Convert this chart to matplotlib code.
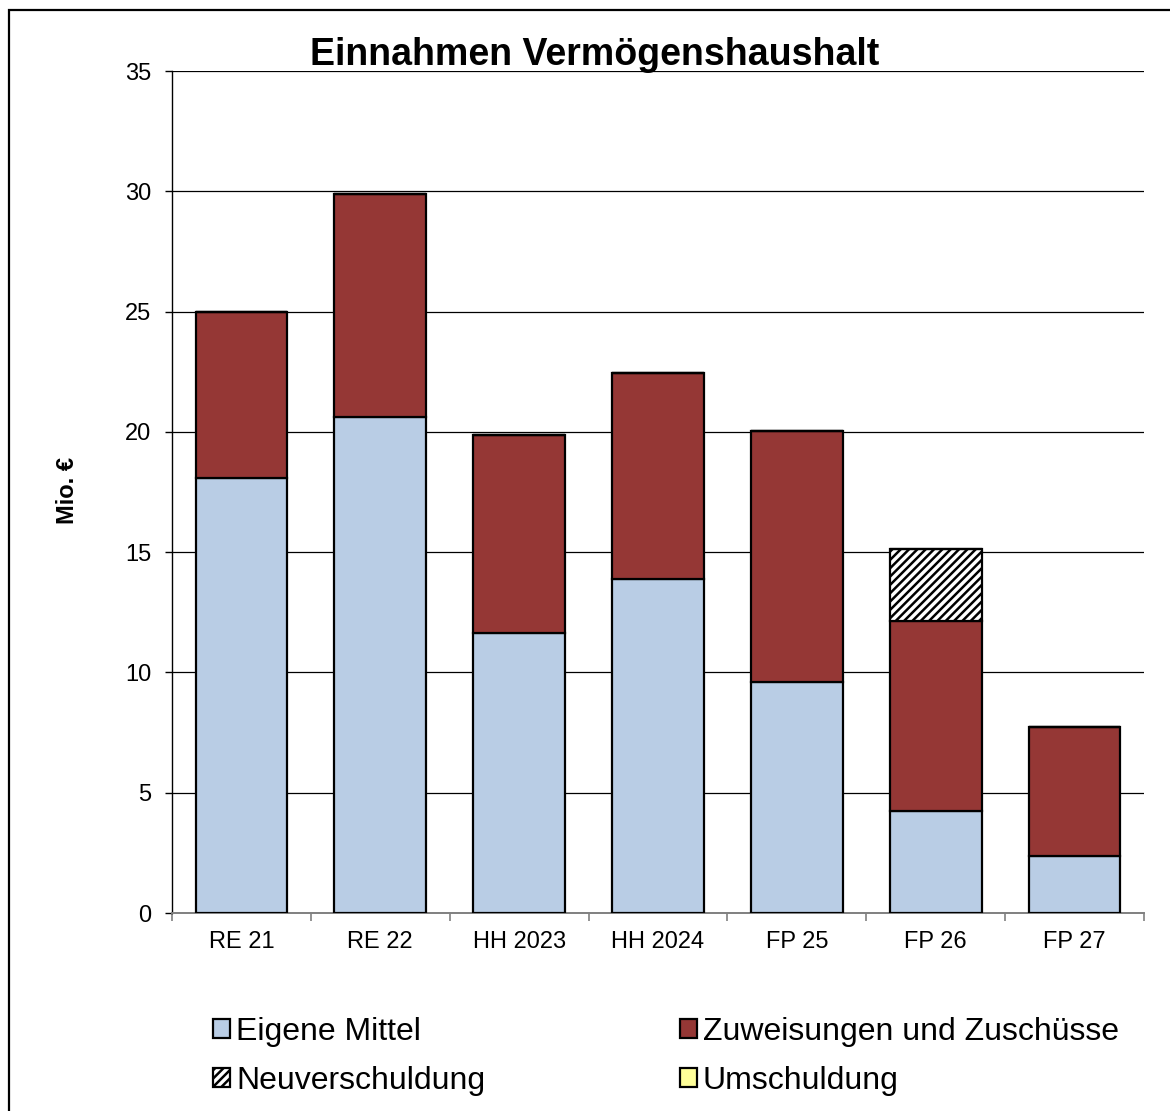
import numpy as np
import matplotlib
matplotlib.use('Agg')
import matplotlib.pyplot as plt
from matplotlib.patches import Rectangle

plt.rcParams['font.family'] = ['Liberation Sans', 'DejaVu Sans']
plt.rcParams['hatch.linewidth'] = 1.8

# data (Mio. EUR)
categories = ['RE 21', 'RE 22', 'HH 2023', 'HH 2024', 'FP 25', 'FP 26', 'FP 27']
eigene_mittel = [18.1, 20.6, 11.65, 13.9, 9.6, 4.25, 2.35]
zuweisungen = [6.9, 9.3, 8.2, 8.55, 10.45, 7.9, 5.4]
neuverschuldung = [0, 0, 0, 0, 0, 3.0, 0]
umschuldung = [0, 0, 0, 0, 0, 0, 0]

blue = '#B9CDE5'
red = '#953735'
yellow = '#FFFF99'

fig = plt.figure(figsize=(11.7, 11.11), dpi=100)
ax = fig.add_axes([172/1170, 1 - 913/1111, (1144-172)/1170, (913-71)/1111])

x = np.arange(len(categories))
w = 0.66
b1 = ax.bar(x, eigene_mittel, w, color=blue, edgecolor='black', linewidth=1.6, zorder=3, label='Eigene Mittel')
bottom = np.array(eigene_mittel)
b2 = ax.bar(x, zuweisungen, w, bottom=bottom, color=red, edgecolor='black', linewidth=1.6, zorder=3,
            label='Zuweisungen und Zuschüsse')
bottom = bottom + np.array(zuweisungen)
b3 = ax.bar(x, neuverschuldung, w, bottom=bottom, color='white', edgecolor='black', hatch='////',
            linewidth=1.6, zorder=3, label='Neuverschuldung')
bottom = bottom + np.array(neuverschuldung)
b4 = ax.bar(x, umschuldung, w, bottom=bottom, color=yellow, edgecolor='black', linewidth=1.6, zorder=3,
            label='Umschuldung')

ax.set_ylim(0, 35)
ax.set_xlim(-0.5, len(categories) - 0.5)
ax.set_yticks(np.arange(0, 36, 5))
ax.yaxis.grid(True, color='black', linewidth=0.9, zorder=0)
ax.set_axisbelow(True)

ax.set_xticks(x)
ax.set_xticklabels(categories)
ax.set_xticks(np.arange(-0.5, len(categories), 1), minor=True)
ax.tick_params(axis='x', which='major', length=0, pad=13, labelsize=17)
ax.tick_params(axis='x', which='minor', length=6, width=1.2, color='#808080', direction='out')
ax.tick_params(axis='y', length=5, width=1.0, pad=10, labelsize=17, direction='out')

for s in ['top', 'right']:
    ax.spines[s].set_visible(False)
ax.spines['bottom'].set_color('#808080')
ax.spines['bottom'].set_linewidth(1.4)
ax.spines['left'].set_linewidth(1.0)

fig.text(595/1170, 1 - 65/1111, 'Einnahmen Vermögenshaushalt', ha='center', va='baseline',
         fontsize=27, fontweight='bold')
fig.text(68/1170, 1 - 490/1111, 'Mio. €', rotation=90, ha='center', va='center',
         fontsize=17, fontweight='bold')

fig.legend([b1, b3, b2, b4],
           ['Eigene Mittel', 'Neuverschuldung', 'Zuweisungen und Zuschüsse', 'Umschuldung'],
           ncol=2, loc='upper left', bbox_to_anchor=(213/1170, 1 - 1017/1111),
           frameon=False, fontsize=23, handlelength=0.53, handleheight=0.53,
           handletextpad=0.2, columnspacing=6.08, labelspacing=0.6, borderpad=0, borderaxespad=0)

fig.patches.append(Rectangle((9/1170, -0.1), 1.2, 1.1 - 10/1111, transform=fig.transFigure,
                             fill=False, edgecolor='black', linewidth=1.6))

fig.savefig('out.png', dpi=100)
